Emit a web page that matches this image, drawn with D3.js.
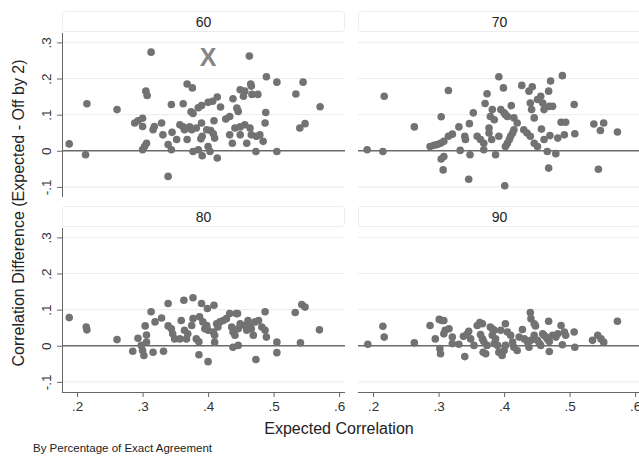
<!DOCTYPE html>
<html>
<head>
<meta charset="utf-8">
<script src="https://cdn.jsdelivr.net/npm/d3@7"></script>
<style>
  body { margin: 0; background: #fff; }
  svg { display: block; font-family: Helvetica, Arial, "Liberation Sans", sans-serif; }
</style>
</head>
<body>
<svg id="chart" width="639" height="456"></svg>
<script>
// panel labels (percentage of exact agreement)
var panelLabels = ["60", "70", "80", "90"];

var xTicks = [0.2, 0.3, 0.4, 0.5, 0.6];
var xTickLabels = [".2", ".3", ".4", ".5", ".6"];
var yTicks = [0.3, 0.2, 0.1, 0, -0.1];
var yTickLabels = [".3", ".2", ".1", "0", "-.1"];

// [expected correlation, correlation difference]
var pts60 = [[0.188,0.019],[0.213,-0.011],[0.215,0.13],[0.261,0.114],
  [0.288,0.077],[0.293,0.083],[0.300,0.09],[0.300,0.067],[0.305,0.165],[0.307,0.153],[0.306,0.021],[0.303,0.012],[0.300,0.003],
  [0.313,0.273],[0.316,0.058],[0.318,0.067],[0.329,0.077],[0.331,0.044],[0.339,0.017],[0.344,0.003],[0.339,-0.071],[0.344,0.128],
  [0.345,0.051],[0.352,0.031],[0.357,0.072],[0.362,0.066],[0.364,0.058],[0.362,0.13],[0.368,0.185],[0.376,0.174],[0.368,0.031],
  [0.372,0.066],[0.375,0.058],[0.374,0.108],[0.377,0.103],[0.382,0.063],[0.385,0.119],[0.390,0.125],[0.390,0.077],[0.391,0.04],
  [0.389,0.033],[0.377,-0.002],[0.385,0.003],[0.391,-0.014],[0.398,0.058],[0.400,0.134],[0.400,0.012],[0.403,-0.002],[0.404,0.056],
  [0.407,0.137],[0.408,0.047],[0.409,0.083],[0.410,0.035],[0.414,0.149],[0.414,-0.02],[0.419,0.121],[0.427,0.088],[0.433,0.095],
  [0.433,0.044],[0.437,0.021],[0.438,0.144],[0.441,0.063],[0.444,0.118],[0.446,0.109],[0.449,0.169],[0.449,0.066],[0.449,0.044],
  [0.454,0.151],[0.456,0.165],[0.456,0.072],[0.459,0.021],[0.463,0.262],[0.464,0.063],[0.465,0.185],[0.466,0.179],[0.466,0.044],
  [0.467,0.156],[0.473,-0.002],[0.474,0.04],[0.476,0.156],[0.479,0.044],[0.484,0.026],[0.487,0.077],[0.488,0.106],[0.489,0.205],
  [0.505,0.19],[0.505,-0.002],[0.534,0.157],[0.545,0.19],[0.540,0.063],[0.548,0.075],[0.571,0.122]];

var pts70 = [[0.191,0.003],[0.215,-0.002],[0.217,0.151],[0.263,0.066],[0.315,0.167],[0.304,0.094],
  [0.287,0.012],[0.293,0.015],[0.298,0.017],[0.303,0.021],[0.308,0.026],[0.315,0.04],[0.321,0.046],
  [0.304,-0.023],[0.308,-0.016],[0.307,-0.053],[0.331,0.066],[0.333,0.001],[0.34,0.04],[0.341,0.031],
  [0.347,0.075],[0.348,-0.011],[0.346,-0.079],[0.353,0.105],[0.359,0.04],[0.364,0.031],[0.369,0.021],[0.369,0.003],
  [0.371,0.131],[0.374,0.158],[0.377,0.063],[0.379,0.095],[0.382,0.114],[0.385,0.086],[0.377,0.049],[0.381,0.031],
  [0.387,-0.011],[0.392,0.205],[0.392,0.04],[0.399,0.174],[0.395,0.114],[0.40,0.105],[0.402,0.1],[0.405,0.095],
  [0.401,-0.097],[0.402,0.012],[0.405,0.021],[0.408,0.031],[0.41,0.04],[0.413,0.049],[0.415,0.058],
  [0.411,0.125],[0.415,0.091],[0.42,0.077],[0.427,0.181],[0.43,0.058],[0.435,0.049],[0.44,0.04],[0.446,0.021],[0.451,0.012],
  [0.438,0.165],[0.443,0.177],[0.44,0.132],[0.442,0.114],[0.446,0.091],[0.451,0.142],[0.456,0.151],[0.459,0.132],
  [0.461,0.114],[0.469,0.123],[0.474,0.123],[0.468,0.165],[0.471,0.193],[0.489,0.208],[0.457,0.06],[0.461,0.031],
  [0.466,-0.002],[0.47,0.042],[0.479,-0.008],[0.482,0.035],[0.468,-0.048],[0.487,0.079],[0.494,0.079],[0.492,0.044],
  [0.507,0.128],[0.508,0.047],[0.537,0.074],[0.552,0.077],[0.547,0.056],[0.544,-0.051],[0.573,0.052]];

var pts80 = [[0.188,0.078],[0.214,0.052],[0.215,0.044],[0.261,0.017],[0.285,-0.015],[0.293,0.021],
  [0.298,0.001],[0.30,-0.013],[0.302,-0.027],[0.306,0.01],[0.304,0.055],[0.306,0.03],[0.313,0.094],[0.316,-0.018],
  [0.319,0.066],[0.329,0.077],[0.332,-0.015],[0.339,0.117],[0.339,0.055],[0.344,0.047],[0.346,0.033],[0.349,0.019],
  [0.357,0.019],[0.359,0.07],[0.363,0.126],[0.364,0.043],[0.369,0.033],[0.367,0.019],[0.377,0.133],[0.375,0.056],
  [0.377,0.075],[0.382,0.019],[0.386,-0.025],[0.386,0.011],[0.39,0.117],[0.387,0.08],[0.392,0.066],[0.395,0.047],
  [0.398,0.056],[0.40,0.043],[0.399,0.103],[0.40,-0.044],[0.408,0.038],[0.41,0.029],[0.41,0.01],[0.413,0.061],
  [0.415,0.052],[0.409,0.112],[0.418,0.066],[0.423,0.07],[0.428,0.075],[0.433,0.089],[0.443,0.089],[0.436,0.052],
  [0.438,0.038],[0.441,0.029],[0.445,0.089],[0.446,0.047],[0.438,-0.004],[0.446,0.001],[0.449,0.061],[0.456,0.056],
  [0.459,0.043],[0.461,0.07],[0.464,0.056],[0.466,0.047],[0.469,0.029],[0.472,0.066],[0.473,-0.038],[0.477,0.07],
  [0.482,0.052],[0.487,0.043],[0.489,0.024],[0.487,0.094],[0.505,0.01],[0.505,-0.019],[0.533,0.092],[0.543,0.114],
  [0.548,0.107],[0.541,0.008],[0.57,0.044]];

var pts90 = [[0.192,0.004],[0.215,0.054],[0.217,0.024],[0.263,0.008],[0.287,0.056],[0.295,0.019],
  [0.301,0.073],[0.305,0.07],[0.308,0.07],[0.302,-0.008],[0.303,-0.022],[0.308,0.033],[0.31,0.043],[0.316,0.047],
  [0.321,0.024],[0.321,0.006],[0.331,0.004],[0.338,0.026],[0.344,0.033],[0.346,0.04],[0.349,0.019],[0.34,-0.03],
  [0.354,0.001],[0.359,0.056],[0.363,0.064],[0.367,0.061],[0.364,0.031],[0.367,0.019],[0.369,0.012],[0.368,-0.018],
  [0.372,-0.022],[0.374,0.001],[0.379,0.052],[0.382,0.047],[0.385,0.043],[0.382,0.029],[0.387,0.019],[0.385,0.006],
  [0.39,0.001],[0.392,-0.018],[0.397,-0.027],[0.40,-0.013],[0.402,0.001],[0.395,0.043],[0.402,0.061],[0.405,0.038],
  [0.41,0.029],[0.413,0.01],[0.415,-0.004],[0.42,-0.013],[0.423,0.024],[0.428,0.045],[0.431,0.019],[0.436,0.01],
  [0.438,-0.004],[0.441,0.015],[0.44,0.092],[0.441,0.075],[0.446,0.061],[0.448,0.055],[0.446,0.029],[0.451,0.015],
  [0.454,0.006],[0.456,0.001],[0.459,0.033],[0.461,0.029],[0.464,0.024],[0.466,0.019],[0.469,0.012],[0.469,-0.016],
  [0.468,0.068],[0.474,0.029],[0.479,0.024],[0.482,0.033],[0.487,0.056],[0.492,0.038],[0.494,0.029],[0.489,0.003],
  [0.507,0.038],[0.508,-0.004],[0.535,0.015],[0.543,0.029],[0.548,0.019],[0.552,0.01],[0.573,0.068]];

var panelData = [pts60, pts70, pts80, pts90];

var svg = d3.select('#chart');
var pw = 283, ph = 164;
var colX = [62, 358], rowY = [33, 228];

var x = d3.scaleLinear().domain([0.177, 0.609]).range([0, pw]);
var y = d3.scaleLinear().domain([-0.128, 0.326]).range([ph, 0]);

panelLabels.forEach(function(label, i){
	var col = i % 2, row = Math.floor(i / 2);
	var g = svg.append('g').attr('transform', 'translate(' + colX[col] + ',' + rowY[row] + ')');

	// header strip
	g.append('rect')
		.attr('x', 0.5).attr('y', -21.5)
		.attr('width', pw - 1).attr('height', 20)
		.attr('rx', 3)
		.attr('fill', '#fff').attr('stroke', '#ececec');
	g.append('text')
		.attr('x', pw / 2).attr('y', -6.5)
		.attr('text-anchor', 'middle')
		.attr('font-size', 14).attr('fill', '#222')
		.text(label);

	// faint gridlines
	g.selectAll('line.grid').data(yTicks.filter(function(d){ return d !== 0 }))
		.enter().append('line')
		.attr('class', 'grid')
		.attr('x1', 0).attr('x2', pw)
		.attr('y1', function(d){ return y(d) }).attr('y2', function(d){ return y(d) })
		.attr('stroke', '#eeeeee').attr('stroke-width', 1.2);

	// zero line
	g.append('line')
		.attr('x1', 0).attr('x2', pw)
		.attr('y1', y(0)).attr('y2', y(0))
		.attr('stroke', '#6a6a6a').attr('stroke-width', 1.5);

	g.selectAll('circle').data(panelData[i])
		.enter().append('circle')
		.attr('cx', function(d){ return x(d[0]) })
		.attr('cy', function(d){ return y(d[1]) })
		.attr('r', 3.8)
		.attr('fill', '#727272');

	if (col === 0) {
		var ya = g.append('g').call(d3.axisLeft(y).tickValues(yTicks).tickSize(5)
			.tickFormat(function(d, k){ return yTickLabels[k] }));
		ya.select('.domain').attr('stroke', '#666').attr('d', 'M0.5,0V' + ph);
		ya.selectAll('.tick line').attr('stroke', '#666');
		ya.selectAll('.tick text')
			.attr('transform', 'rotate(-90)')
			.attr('x', 0).attr('y', -11).attr('dy', null)
			.attr('text-anchor', 'middle')
			.attr('font-size', 13.5).attr('fill', '#333')
			.style('font-family', 'Helvetica, Arial, "Liberation Sans", sans-serif');
	}
	if (row === 1) {
		var xa = g.append('g').attr('transform', 'translate(0,' + ph + ')')
			.call(d3.axisBottom(x).tickValues(xTicks).tickSize(5)
			.tickFormat(function(d, k){ return xTickLabels[k] }));
		xa.select('.domain').attr('stroke', '#666').attr('d', 'M0,0.5H' + pw);
		xa.selectAll('.tick line').attr('stroke', '#666');
		xa.selectAll('.tick text')
			.attr('y', 9)
			.attr('font-size', 13.5).attr('fill', '#333')
			.style('font-family', 'Helvetica, Arial, "Liberation Sans", sans-serif');
	}
});

// the "X" mark in the first panel
svg.append('text')
	.attr('x', colX[0] + x(0.4)).attr('y', rowY[0] + y(0.26) + 9)
	.attr('text-anchor', 'middle')
	.attr('font-size', 25).attr('font-weight', 'bold').attr('fill', '#858585')
	.text('X');

svg.append('text')
	.attr('transform', 'translate(24,213) rotate(-90)')
	.attr('text-anchor', 'middle')
	.attr('font-size', 16).attr('fill', '#222')
	.text('Correlation Difference (Expected - Off by 2)');

svg.append('text')
	.attr('x', 339).attr('y', 434)
	.attr('text-anchor', 'middle')
	.attr('font-size', 16).attr('fill', '#222')
	.text('Expected Correlation');

svg.append('text')
	.attr('x', 33).attr('y', 452)
	.attr('font-size', 11.5).attr('fill', '#222')
	.text('By Percentage of Exact Agreement');
</script>
</body>
</html>
